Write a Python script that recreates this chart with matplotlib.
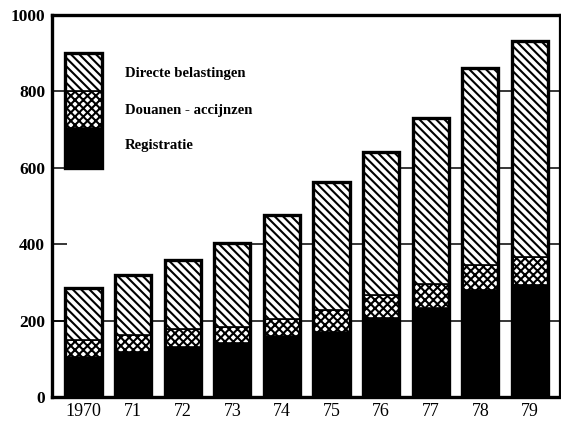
import matplotlib
matplotlib.use("Agg")
import matplotlib.pyplot as plt
from matplotlib.patches import Rectangle
import numpy as np

years = ["1970", "71", "72", "73", "74", "75", "76", "77", "78", "79"]
registratie = [106, 119, 132, 141, 160, 171, 206, 232, 280, 293]
douanen = [44, 43, 46, 43, 43, 57, 61, 64, 66, 73]
directe = [136, 157, 181, 218, 273, 336, 375, 434, 514, 567]
series_names = ["Directe belastingen", "Douanen - accijnzen", "Registratie"]
yticks = [0, 200, 400, 600, 800, 1000]

plt.rcParams['hatch.linewidth'] = 1.5
serif = ['Liberation Serif', 'DejaVu Serif']
DIAG = '\\\\\\\\'
CROSS = 'xxxx'

fig = plt.figure(figsize=(5.61, 4.25), dpi=100)
ax = fig.add_axes([52/561, 28/425, 508/561, 382/425])

x = np.arange(len(years))
reg = np.array(registratie)
dou = np.array(douanen)
dire = np.array(directe)
total = reg + dou + dire
w = 0.73

# gridlines: segments starting at first bar reaching the level
for g in yticks[1:-1]:
    idx = np.nonzero(total >= g)[0]
    if len(idx) == 0:
        continue
    start = x[idx[0]] if idx[0] > 0 else -0.7
    ax.hlines(g, start, 9.7, color='black', lw=1.1, zorder=0.5)

ax.bar(x, reg, w, color='black', edgecolor='black', lw=1.2, zorder=2)
ax.bar(x, dou, w, bottom=reg, color='white', edgecolor='black',
       hatch=CROSS, lw=1.2, zorder=2)
ax.bar(x, dire, w, bottom=reg + dou, color='white', edgecolor='black',
       hatch=DIAG, lw=1.2, zorder=2)
ax.bar(x, total, w, fill=False, edgecolor='black', lw=2.4, zorder=3)

# legend drawn as a small stacked box
lx = 0 - w / 2
segs = [(600, 105, 'black', ''), (705, 95, 'white', CROSS), (800, 100, 'white', DIAG)]
for b, h, fc, ht in segs:
    ax.add_patch(Rectangle((lx, b), w, h, facecolor=fc, edgecolor='black',
                           hatch=ht, lw=1.2, zorder=2))
ax.add_patch(Rectangle((lx, 600), w, 300, fill=False, edgecolor='black',
                       lw=2.4, zorder=3))
for name, yy in zip(series_names, [848, 751, 658]):
    ax.text(0.84, yy, name, family=serif, fontweight='bold', fontsize=10.6,
            va='center', ha='left', zorder=4)

ax.set_xlim(-0.635, 9.605)
ax.set_ylim(0, 1000)
ax.set_xticks(x)
ax.set_xticklabels(years, family=serif, fontsize=13)
ax.set_yticks(yticks)
ax.set_yticklabels([str(v) for v in yticks], family=serif, fontsize=12.5,
                   fontweight='bold')
ax.tick_params(axis='x', length=0, pad=4)
ax.tick_params(axis='y', direction='in', length=11, width=1.1, pad=5)

for s in ['left', 'top', 'bottom']:
    ax.spines[s].set_linewidth(2.4)
ax.spines['right'].set_linewidth(1.6)

fig.savefig("out.png", dpi=100)
